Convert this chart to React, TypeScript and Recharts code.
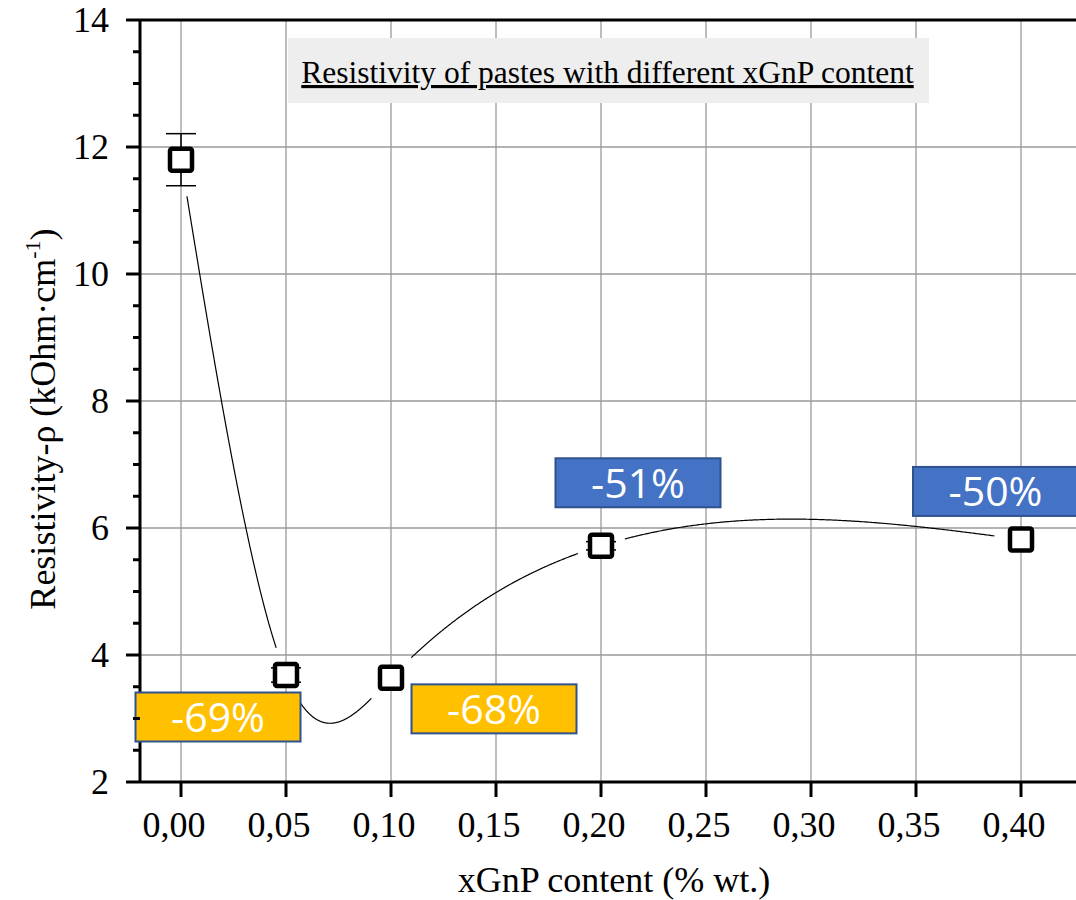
import React from "react";
import {
  CartesianGrid, ComposedChart, Customized, ErrorBar, Line, ReferenceLine,
  Scatter, XAxis, YAxis
} from "recharts";

// xGnP content (% wt.) and measured resistivity (kOhm·cm-1)
const xGnP = [0, 0.05, 0.1, 0.2, 0.4];
const resistivity = [11.8, 3.685, 3.64, 5.72, 5.82];
const resistivityErr = [0.41, 0.113, 0, 0.065, 0];
const changeLabels = ["", "-69%", "-68%", "-51%", "-50%"];

const xTicks = [0, 0.05, 0.1, 0.15, 0.2, 0.25, 0.3, 0.35, 0.4];
const yTicks = [2, 2.5, 3, 3.5, 4, 4.5, 5, 5.5, 6, 6.5, 7, 7.5, 8, 8.5, 9, 9.5, 10, 10.5, 11, 11.5, 12, 12.5, 13, 13.5, 14];
const yGrid = [4, 6, 8, 10, 12];

// label box placement relative to its marker, and colours
const labelStyle = [
  null,
  { dx: -68, dy: 42, fill: "#FFC000" },
  { dx: 103, dy: 31, fill: "#FFC000" },
  { dx: 37, dy: -63, fill: "#4472C4" },
  { dx: -25.5, dy: -48, fill: "#4472C4" },
];
// gap left in the spline around each marker (px)
const gapRadius = [35, 28, 28, 24, 26];

const rows = xGnP.map((x, i) => ({
  x,
  y: resistivity[i],
  errOut: resistivityErr[i] > 0.2 ? resistivityErr[i] : 0,
  errIn: resistivityErr[i] <= 0.2 ? resistivityErr[i] : 0,
}));

const serif = "Liberation Serif, Times New Roman, serif";
const sans = "Open Sans, Liberation Sans, sans-serif";

// natural cubic spline y(x) through the points, with gaps near the markers
function trimmedSpline(context: any) {
  let pts: number[][] = [];
  return {
    areaStart() {},
    areaEnd() {},
    lineStart() {
      pts = [];
    },
    point(x: number, y: number) {
      pts.push([+x, +y]);
    },
    lineEnd() {
      const n = pts.length;
      if (n < 2) return;
      const X = pts.map((p) => p[0]);
      const Y = pts.map((p) => p[1]);
      const h = X.slice(0, -1).map((x, i) => X[i + 1] - x);
      const M = new Array(n).fill(0);
      if (n > 2) {
        const m = n - 2;
        const a: number[] = [], b: number[] = [], c: number[] = [], d: number[] = [];
        for (let i = 1; i <= m; i++) {
          a.push(h[i - 1]);
          b.push(2 * (h[i - 1] + h[i]));
          c.push(h[i]);
          d.push(6 * ((Y[i + 1] - Y[i]) / h[i] - (Y[i] - Y[i - 1]) / h[i - 1]));
        }
        for (let i = 1; i < m; i++) {
          const w = a[i] / b[i - 1];
          b[i] -= w * c[i - 1];
          d[i] -= w * d[i - 1];
        }
        const sol = new Array(m);
        sol[m - 1] = d[m - 1] / b[m - 1];
        for (let i = m - 2; i >= 0; i--) sol[i] = (d[i] - c[i] * sol[i + 1]) / b[i];
        for (let i = 0; i < m; i++) M[i + 1] = sol[i];
      }
      let pen = false;
      for (let i = 0; i < n - 1; i++) {
        const steps = 300;
        const hi = h[i];
        for (let s = 0; s <= steps; s++) {
          const x = X[i] + (hi * s) / steps;
          const A = X[i + 1] - x;
          const B = x - X[i];
          const y =
            (M[i] * A ** 3 + M[i + 1] * B ** 3) / (6 * hi) +
            (Y[i] / hi - (M[i] * hi) / 6) * A +
            (Y[i + 1] / hi - (M[i + 1] * hi) / 6) * B;
          const hidden =
            Math.hypot(x - X[i], y - Y[i]) < gapRadius[i] ||
            Math.hypot(x - X[i + 1], y - Y[i + 1]) < gapRadius[i + 1];
          if (hidden) {
            pen = false;
            continue;
          }
          if (!pen) {
            context.moveTo(x, y);
            pen = true;
          } else context.lineTo(x, y);
        }
      }
    },
  };
}

const Marker = (props: any) => {
  const { cx, cy, payload } = props;
  const i = xGnP.indexOf(payload.x);
  const st = labelStyle[i];
  return (
    <g>
      <rect x={cx - 11} y={cy - 11} width={22} height={22} rx={2} fill="#fff" stroke="#000" strokeWidth={4.5} />
      {st && (
        <g>
          <rect
            x={cx + st.dx - 82.5}
            y={cy + st.dy - 24.5}
            width={165}
            height={49}
            fill={st.fill}
            stroke="#2F528F"
            strokeWidth={2}
          />
          <text
            x={cx + st.dx}
            y={cy + st.dy + 15}
            textAnchor="middle"
            fill="#fff"
            fontSize={41}
            fontFamily={sans}
          >
            {changeLabels[i]}
          </text>
        </g>
      )}
    </g>
  );
};

const NoShape = () => <g />;

const YTick = (props: any) => {
  const { x, y, payload } = props;
  const v = payload.value;
  const major = v % 2 === 0;
  return (
    <g>
      <line x1={x - (major ? 14 : 7)} x2={x} y1={y} y2={y} stroke="#000" strokeWidth={3} />
      {major && (
        <text x={x - 31} y={y + 12} textAnchor="end" fontSize={36} fontFamily={serif} fill="#000">
          {v}
        </text>
      )}
    </g>
  );
};

const XTick = (props: any) => {
  const { x, y, payload } = props;
  return (
    <text x={x - 7} y={y + 40} textAnchor="middle" fontSize={36} fontFamily={serif} fill="#000">
      {payload.value.toFixed(2).replace(".", ",")}
    </text>
  );
};

// title box and axis titles
const Annotations = () => (
  <g>
    <rect x={288} y={38} width={641} height={65} fill="#EEEEEE" />
    <text
      x={607.5}
      y={83}
      textAnchor="middle"
      fontSize={31.5}
      fontFamily={serif}
      fill="#000"
      textDecoration="underline"
    >
      Resistivity of pastes with different xGnP content
    </text>
    <text x={614} y={892} textAnchor="middle" fontSize={36} fontFamily={serif} fill="#000">
      xGnP content (% wt.)
    </text>
    <text
      x={55}
      y={419}
      transform="rotate(-90 55 419)"
      textAnchor="middle"
      fontSize={36}
      fontFamily={serif}
      fill="#000"
    >
      Resistivity-ρ (kOhm·cm
      <tspan fontSize={22} dy={-15}>-1</tspan>
      <tspan dy={15}>)</tspan>
    </text>
  </g>
);

export default function App() {
  return (
    <div style={{ position: "absolute", left: 0, top: 0, width: 1076, height: 900, overflow: "hidden", background: "#fff" }}>
      <ComposedChart width={1076} height={900} data={rows} margin={{ top: 20, right: 0, bottom: 0, left: 0 }}>
        <CartesianGrid horizontalValues={yGrid} verticalValues={xTicks} stroke="#9a9a9a" strokeWidth={1.3} />
        <XAxis
          dataKey="x"
          type="number"
          domain={[-0.019524, 0.42619]}
          ticks={xTicks}
          interval={0}
          height={118}
          tickSize={15}
          tickMargin={0}
          axisLine={{ stroke: "#000", strokeWidth: 3 }}
          tickLine={{ stroke: "#000", strokeWidth: 3 }}
          tick={(p: any) => <XTick {...p} />}
        />
        <YAxis
          type="number"
          domain={[2, 14]}
          ticks={yTicks}
          interval={0}
          width={140}
          tickSize={0}
          tickMargin={0}
          axisLine={{ stroke: "#000", strokeWidth: 3 }}
          tickLine={false}
          tick={(p: any) => <YTick {...p} />}
        />
        <ReferenceLine y={14} stroke="#000" strokeWidth={3} />
        <Line
          dataKey="y"
          type={trimmedSpline as any}
          stroke="#000"
          strokeWidth={1.2}
          dot={false}
          activeDot={false}
          isAnimationActive={false}
        />
        <Scatter data={rows} dataKey="y" shape={(p: any) => <Marker {...p} />} isAnimationActive={false}>
          <ErrorBar dataKey="errOut" direction="y" width={15} stroke="#000" strokeWidth={1.5} />
        </Scatter>
        <Scatter data={rows} dataKey="y" shape={NoShape} isAnimationActive={false}>
          <ErrorBar dataKey="errIn" direction="y" width={15} stroke="#000" strokeWidth={1.5} />
        </Scatter>
        <Customized component={Annotations} />
      </ComposedChart>
    </div>
  );
}
